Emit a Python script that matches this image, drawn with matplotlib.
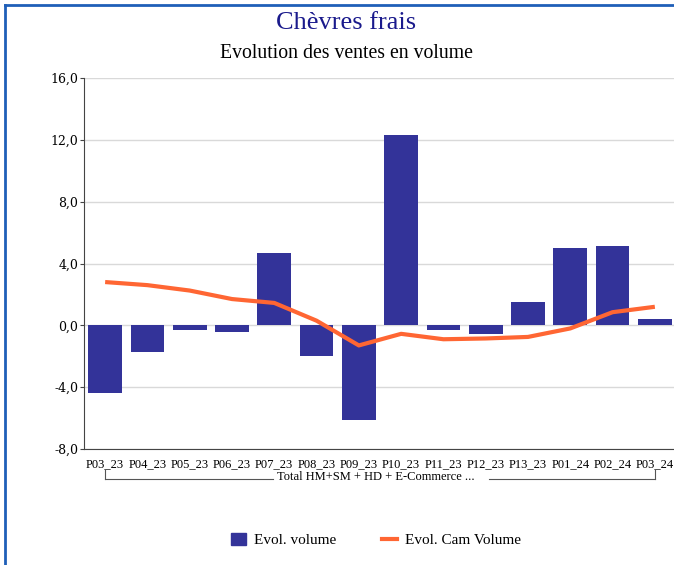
import numpy as np
import matplotlib.pyplot as plt
from matplotlib.lines import Line2D
from matplotlib.patches import Patch

# periods and values
periods = ['P03_23', 'P04_23', 'P05_23', 'P06_23', 'P07_23', 'P08_23', 'P09_23',
           'P10_23', 'P11_23', 'P12_23', 'P13_23', 'P01_24', 'P02_24', 'P03_24']
evol_volume = [-4.4, -1.7, -0.3, -0.4, 4.7, -2.0, -6.1, 12.3, -0.3, -0.55, 1.5, 5.0, 5.1, 0.4]
evol_cam = [2.8, 2.6, 2.25, 1.7, 1.45, 0.3, -1.3, -0.55, -0.9, -0.85, -0.75, -0.2, 0.85, 1.2]
yticks = [-8.0, -4.0, 0.0, 4.0, 8.0, 12.0, 16.0]
group_label = 'Total HM+SM + HD + E-Commerce ...'

BAR = '#333399'
LINE = '#ff6633'
FONT = 'Liberation Serif'

W, H = 674, 565
fig = plt.figure(figsize=(W / 100, H / 100), dpi=100)
fig.patch.set_facecolor('white')

# blue frame (only top and left are visible in the reference)
fig.add_artist(Line2D([5 / W, 5 / W], [0, 1 - 5 / H], color='#1f5fb8', lw=2, transform=fig.transFigure))
fig.add_artist(Line2D([5 / W, 1], [1 - 5 / H, 1 - 5 / H], color='#1f5fb8', lw=2, transform=fig.transFigure))

x0, x1 = 84, 676
y0, y1 = 449, 78
ax = fig.add_axes([x0 / W, 1 - y0 / H, (x1 - x0) / W, (y0 - y1) / H])

x = np.arange(len(periods))
ax.bar(x, evol_volume, width=0.8, color=BAR, zorder=2)
ax.plot(x, evol_cam, color=LINE, lw=3, zorder=3, solid_capstyle='butt')

ax.set_xlim(-0.5, len(periods) - 0.5)
ax.set_ylim(-8, 16)
ax.set_yticks(yticks)
ax.set_yticklabels([f'{v:.1f}'.replace('.', ',') for v in yticks], fontfamily='DejaVu Serif', fontsize=9)
ax.set_xticks(x)
ax.set_xticklabels(periods, fontfamily=FONT, fontsize=9)
ax.tick_params(axis='x', length=0, pad=6.5)
ax.tick_params(axis='y', length=3, color='#444444', pad=1)
ax.grid(axis='y', color='#d9d9d9', lw=1, zorder=0)
for s in ['top', 'right']:
    ax.spines[s].set_visible(False)
ax.spines['left'].set_color('#444444')
ax.spines['bottom'].set_color('#444444')

# group bracket under the tick labels
fig.text(376 / W, 1 - 480 / H, group_label, ha='center', va='baseline', fontfamily=FONT, fontsize=9)
by = 1 - 479 / H
bt = 1 - 470 / H
for xa, xb in [(105, 273), (489, 655)]:
    fig.add_artist(Line2D([xa / W, xb / W], [by, by], color='#555555', lw=0.8))
fig.add_artist(Line2D([105 / W, 105 / W], [by, bt], color='#555555', lw=0.8))
fig.add_artist(Line2D([655 / W, 655 / W], [by, bt], color='#555555', lw=0.8))

# titles
fig.text(346 / W, 1 - 23 / H, 'Chèvres frais', ha='center', va='center', color='#1a1a8c',
         fontfamily=FONT, fontsize=19)
fig.text(346 / W, 1 - 53 / H, 'Evolution des ventes en volume', ha='center', va='center',
         fontfamily=FONT, fontsize=14.2)

handles = [Patch(color=BAR, label='Evol. volume'),
           Line2D([0], [0], color=LINE, lw=3, label='Evol. Cam Volume')]
fig.legend(handles=handles, loc='center', bbox_to_anchor=(376 / W, 1 - 540 / H), ncol=2,
           frameon=False, prop={'family': FONT, 'size': 11}, handlelength=1.0,
           handleheight=0.8, columnspacing=3.0, handletextpad=0.5)

fig.savefig('out.png', dpi=100)
